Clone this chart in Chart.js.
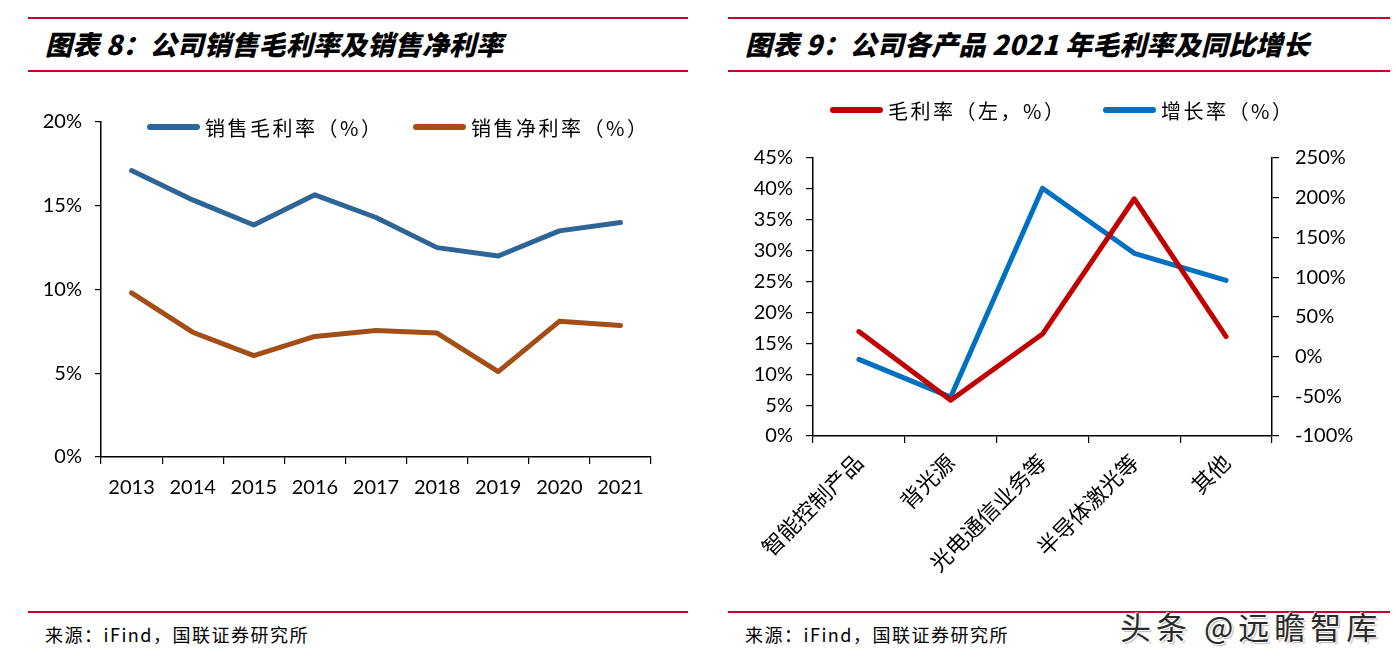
<!DOCTYPE html>
<html><head><meta charset="utf-8">
<script src="https://cdn.jsdelivr.net/npm/chart.js@4.4.1/dist/chart.umd.min.js"></script>
<style>
body{margin:0;width:1396px;height:660px;background:#fff;position:relative;overflow:hidden;font-family:'Noto Sans CJK SC',sans-serif;}
.rule{position:absolute;height:2px;background:#C4002F;}
.title{position:absolute;font-weight:900;font-style:italic;font-size:27px;line-height:30px;color:#000;white-space:nowrap;letter-spacing:0.2px;}
.src{position:absolute;font-size:18px;line-height:20px;color:#000;white-space:nowrap;letter-spacing:1.5px;}
.wm{position:absolute;font-size:31px;line-height:36px;color:#2a2a2a;white-space:nowrap;letter-spacing:5px;text-shadow:1px 1px 0 #fff,-1px -1px 0 #fff,2px 2px 1px #bbb;}
canvas{position:absolute;}
</style></head>
<body>
<div class="rule" style="left:28px;top:17px;width:660px"></div>
<div class="rule" style="left:28px;top:70px;width:660px"></div>
<div class="title" style="left:45px;top:29px">图表 8：公司销售毛利率及销售净利率</div>
<div class="rule" style="left:728px;top:17px;width:662px"></div>
<div class="rule" style="left:728px;top:70px;width:662px"></div>
<div class="title" style="left:745px;top:29px">图表 9：公司各产品 2021 年毛利率及同比增长</div>

<div style="position:absolute;left:0;top:90px;width:700px;height:420px"><canvas id="c1" width="700" height="420"></canvas></div>
<div style="position:absolute;left:720px;top:80px;width:676px;height:520px"><canvas id="c2" width="676" height="520"></canvas></div>

<div class="rule" style="left:28px;top:611px;width:660px"></div>
<div class="rule" style="left:728px;top:611px;width:662px"></div>
<div class="src" style="left:45px;top:624px">来源：iFind，国联证券研究所</div>
<div class="src" style="left:745px;top:624px">来源：iFind，国联证券研究所</div>
<div class="wm" style="left:1120px;top:608px">头条 @远瞻智库</div>

<script>
// ---- Chart 1 data ----
const years = ['2013','2014','2015','2016','2017','2018','2019','2020','2021'];
const grossMargin = [17.1, 15.35, 13.85, 15.65, 14.3, 12.5, 12.0, 13.5, 14.0];
const netMargin = [9.8, 7.45, 6.05, 7.2, 7.55, 7.4, 5.1, 8.1, 7.85];
const seriesNames1 = ['销售毛利率（%）', '销售净利率（%）'];

// ---- Chart 2 data ----
const products = ['智能控制产品','背光源','光电通信业务等','半导体激光等','其他'];
const productMargin = [16.9, 5.8, 16.5, 38.4, 16.1];
const productGrowth = [-3.5, -51, 212, 130, 96];
const seriesNames2 = ['毛利率（左，%）', '增长率（%）'];

const NUM_FONT = {family: "Lato, 'Liberation Sans', sans-serif", size: 20};
const CJK_TICK_FONT = {family: "'Noto Sans CJK SC', sans-serif", size: 22};

// Legend drawn from the chart's own legend items at fixed anchor points
function placedLegend(starts, y, spacing) {
  return {
    id: 'placedLegend',
    afterDraw(chart) {
      const ctx = chart.ctx;
      const items = Chart.defaults.plugins.legend.labels.generateLabels(chart);
      ctx.save();
      ctx.font = "20px 'Noto Sans CJK SC', sans-serif";
      ctx.textBaseline = 'middle';
      ctx.textAlign = 'left';
      if ('letterSpacing' in ctx) ctx.letterSpacing = spacing + 'px';
      items.forEach((it, i) => {
        const x = starts[i];
        ctx.fillStyle = it.strokeStyle;
        ctx.beginPath();
        if (ctx.roundRect) ctx.roundRect(x, y - 3, 53, 6, 3); else ctx.rect(x, y - 3, 53, 6);
        ctx.fill();
        ctx.fillStyle = '#000';
        ctx.fillText(it.text, x + 58, y + 1);
      });
      ctx.restore();
    }
  };
}
const AXIS_GRID = (len, off) => ({offset: off, drawOnChartArea: false, drawTicks: true, tickLength: len, color: '#000', lineWidth: 1.2});
const AXIS_BORDER = {color: '#000', width: 1.5};
const lineDs = (label, data, color, axis) => ({label, data, yAxisID: axis, borderColor: color, backgroundColor: color, borderWidth: 5, pointRadius: 0, tension: 0, borderCapStyle: 'round', borderJoinStyle: 'round'});

new Chart(document.getElementById('c1'), {
  type: 'line',
  data: {
    labels: years,
    datasets: [
      lineDs(seriesNames1[0], grossMargin, '#2E6496', 'y'),
      lineDs(seriesNames1[1], netMargin, '#A24E16', 'y')
    ]
  },
  options: {
    responsive: false, animation: false,
    layout: {padding: {left: 0, right: 49, top: 32, bottom: 0}},
    plugins: {legend: {display: false}, tooltip: {enabled: false}},
    scales: {
      x: {type: 'category', offset: true, grid: AXIS_GRID(7, true), border: AXIS_BORDER,
        ticks: {font: NUM_FONT, color: '#000', maxRotation: 0, minRotation: 0, padding: 12, autoSkip: false},
        afterFit(s) { s.height = 53; }},
      y: {min: 0, max: 20, grid: AXIS_GRID(6, false), border: AXIS_BORDER,
        ticks: {stepSize: 5, font: NUM_FONT, color: '#000', padding: 13, callback: v => v + '%'},
        afterFit(s) { s.width = 101; }}
    }
  },
  plugins: [placedLegend([147, 413], 37, 2.5)]
});

new Chart(document.getElementById('c2'), {
  type: 'line',
  data: {
    labels: products,
    datasets: [
      lineDs(seriesNames2[0], productMargin, '#C00000', 'y'),
      lineDs(seriesNames2[1], productGrowth, '#0070C0', 'y1')
    ]
  },
  options: {
    responsive: false, animation: false,
    layout: {padding: {left: 0, right: 0, top: 78, bottom: 0}},
    plugins: {legend: {display: false}, tooltip: {enabled: false}},
    scales: {
      x: {type: 'category', offset: true, grid: AXIS_GRID(7, true), border: AXIS_BORDER,
        ticks: {font: CJK_TICK_FONT, color: '#000', maxRotation: 45, minRotation: 45, padding: 6, autoSkip: false},
        afterFit(s) { s.height = 164; }},
      y: {position: 'left', min: 0, max: 45, grid: AXIS_GRID(7, false), border: AXIS_BORDER,
        ticks: {stepSize: 5, font: NUM_FONT, color: '#000', padding: 13, callback: v => v + '%'},
        afterFit(s) { s.width = 93; }},
      y1: {position: 'right', min: -100, max: 250, grid: AXIS_GRID(7, false), border: AXIS_BORDER,
        ticks: {stepSize: 50, font: NUM_FONT, color: '#000', padding: 16, callback: v => v + '%'},
        afterFit(s) { s.width = 124; }}
    }
  },
  plugins: [placedLegend([110, 383], 30, 2.5)]
});
</script>
</body></html>
